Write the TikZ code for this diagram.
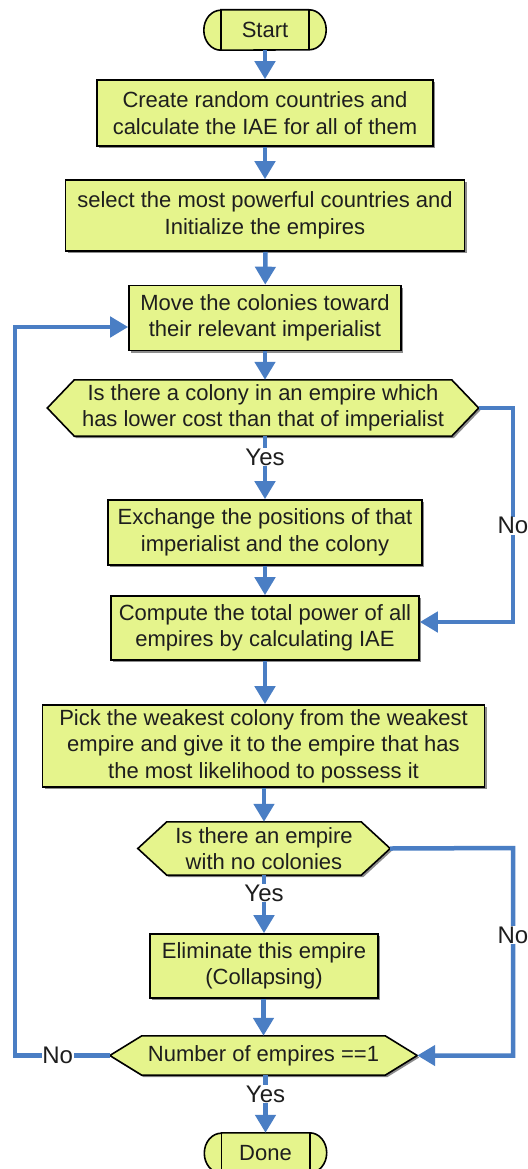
\documentclass[tikz,border=0pt]{standalone}
\usepackage{fontspec}
\setmainfont{Liberation Sans}
\usetikzlibrary{arrows.meta,shadows,backgrounds,calc}
\definecolor{boxfill}{HTML}{E5F48C}
\definecolor{flowblue}{HTML}{4A7EC4}
\definecolor{txt}{HTML}{1E1E1E}
\newcommand\boxfs{\fontsize{22}{26.5}\selectfont}
\newcommand\lblfs{\fontsize{24}{26}\selectfont}
\tikzset{
  shad/.style={drop shadow={shadow xshift=2pt,shadow yshift=-2pt,opacity=0.45,fill=black}},
  proc/.style={rectangle, draw=black, line width=1.6pt, fill=boxfill, text=txt,
    align=center, font=\boxfs, inner sep=0pt, shad},
  hexnode/.style={rectangle, align=center, text=txt, font=\boxfs, inner sep=0pt},
  hexshape/.style={draw=black, fill=boxfill, line width=1.6pt, line join=miter, shad},
  termnode/.style={rectangle, text=txt, font=\boxfs, inner sep=0pt,
    minimum width=88pt, minimum height=40pt},
  termshape/.style={draw=black, fill=boxfill, line width=1.6pt},
  flow/.style={draw=flowblue, line width=4.5pt, line join=miter,
    -{Triangle[width=20pt,length=18pt]}},
  lbl/.style={fill=white, inner sep=0.5pt, font=\lblfs, text=txt}
}
\begin{document}
\begin{tikzpicture}[x=1pt,y=-1pt]
\useasboundingbox (0,0) rectangle (527,1169);
\begin{scope}[on background layer]
  \fill[white] (0,0) rectangle (527,1169);
\end{scope}

% nodes
\node[termnode] (start) at (265,30) {Start};
\node[proc, minimum width=336pt, minimum height=66pt] (b1) at (265,113)
  {Create random countries and\\calculate the IAE for all of them};
\node[proc, minimum width=399pt, minimum height=71pt] (b2) at (265,215.5)
  {select the most powerful countries and\\Initialize the empires};
\node[proc, minimum width=272pt, minimum height=65pt] (b3) at (265,318)
  {Move the colonies toward\\their relevant imperialist};
\node[hexnode, minimum width=431pt, minimum height=56pt] (h1) at (263,408)
  {Is there a colony in an empire which\\has lower cost than that of imperialist};
\node[proc, minimum width=314pt, minimum height=65pt] (b4) at (265,532.5)
  {Exchange the positions of that\\imperialist and the colony};
\node[proc, minimum width=308pt, minimum height=64pt] (b5) at (265,628)
  {Compute the total power of all\\empires by calculating IAE};
\node[proc, minimum width=442pt, minimum height=82pt] (b6) at (263.5,746)
  {Pick the weakest colony from the weakest\\empire and give it to the empire that has\\the most likelihood to possess it};
\node[hexnode, minimum width=252pt, minimum height=53pt] (h2) at (264,848.5)
  {Is there an empire\\with no colonies};
\node[proc, minimum width=228pt, minimum height=64pt] (b7) at (264,966)
  {Eliminate this empire\\(Collapsing)};
\node[hexnode, minimum width=307pt, minimum height=39pt] (h3) at (263.5,1055.5)
  {Number of empires ==1};
\node[termnode] (done) at (265.5,1153) {Done};

% shapes drawn behind the texts
\begin{scope}[on background layer]
  \foreach \t in {start,done}{
    \path[termshape] (\t.north west) -- (\t.north east)
      arc[start angle=90,end angle=-90,x radius=17pt,y radius=20pt]
      -- (\t.south west)
      arc[start angle=270,end angle=90,x radius=17pt,y radius=20pt] -- cycle;
    \draw[line width=1.6pt] (\t.north west) -- (\t.south west)
      (\t.north east) -- (\t.south east);
  }
  \foreach \h/\s in {h1/27,h2/29,h3/32}{
    \path[hexshape] (\h.west) -- ([xshift=\s pt]\h.north west)
      -- ([xshift=-\s pt]\h.north east) -- (\h.east)
      -- ([xshift=-\s pt]\h.south east) -- ([xshift=\s pt]\h.south west) -- cycle;
  }
\end{scope}

% loop-back corners
\coordinate (r1) at (513,408);
\coordinate (r2) at (513,622);
\coordinate (r3) at (513,848);
\coordinate (r4) at (513,1055.5);
\coordinate (l1) at (15,1055.5);
\coordinate (l2) at (15,327);

% connectors
\draw[flow] (start) -- (b1);
\draw[flow] (b1) -- (b2);
\draw[flow] ([xshift=0.5pt]b2.south) -- (b3);
\draw[flow] (b3.south) -- (b3.south |- h1.north);
\draw[flow] (h1.south -| b4.north) -- node[lbl, pos=0.33] {Yes} (b4.north);
\draw[flow] (b4) -- (b5);
\draw[flow] (b5.south) -- (b5.south |- b6.north);
\draw[flow] (b6.south -| h2.north) -- (h2.north);
\draw[flow] (h2.south -| b7.north) -- node[lbl, pos=0.31] {Yes} (b7.north);
\draw[flow] (b7.south -| h3.north) -- (h3.north);
\draw[flow] (h3.south -| done.north) -- node[lbl, pos=0.33] {Yes} (done.north);
\draw[flow] (h1.east) -- (r1) -- node[lbl, pos=0.55] {No} (r2) -- (r2 -| b5.east);
\draw[flow] (h2.east) -- (r3) -- node[lbl, pos=0.42] {No} (r4) -- (h3.east);
\draw[flow] (h3.west) -- node[lbl, pos=0.55] {No} (l1) -- (l2) -- (l2 -| b3.west);
\end{tikzpicture}
\end{document}
